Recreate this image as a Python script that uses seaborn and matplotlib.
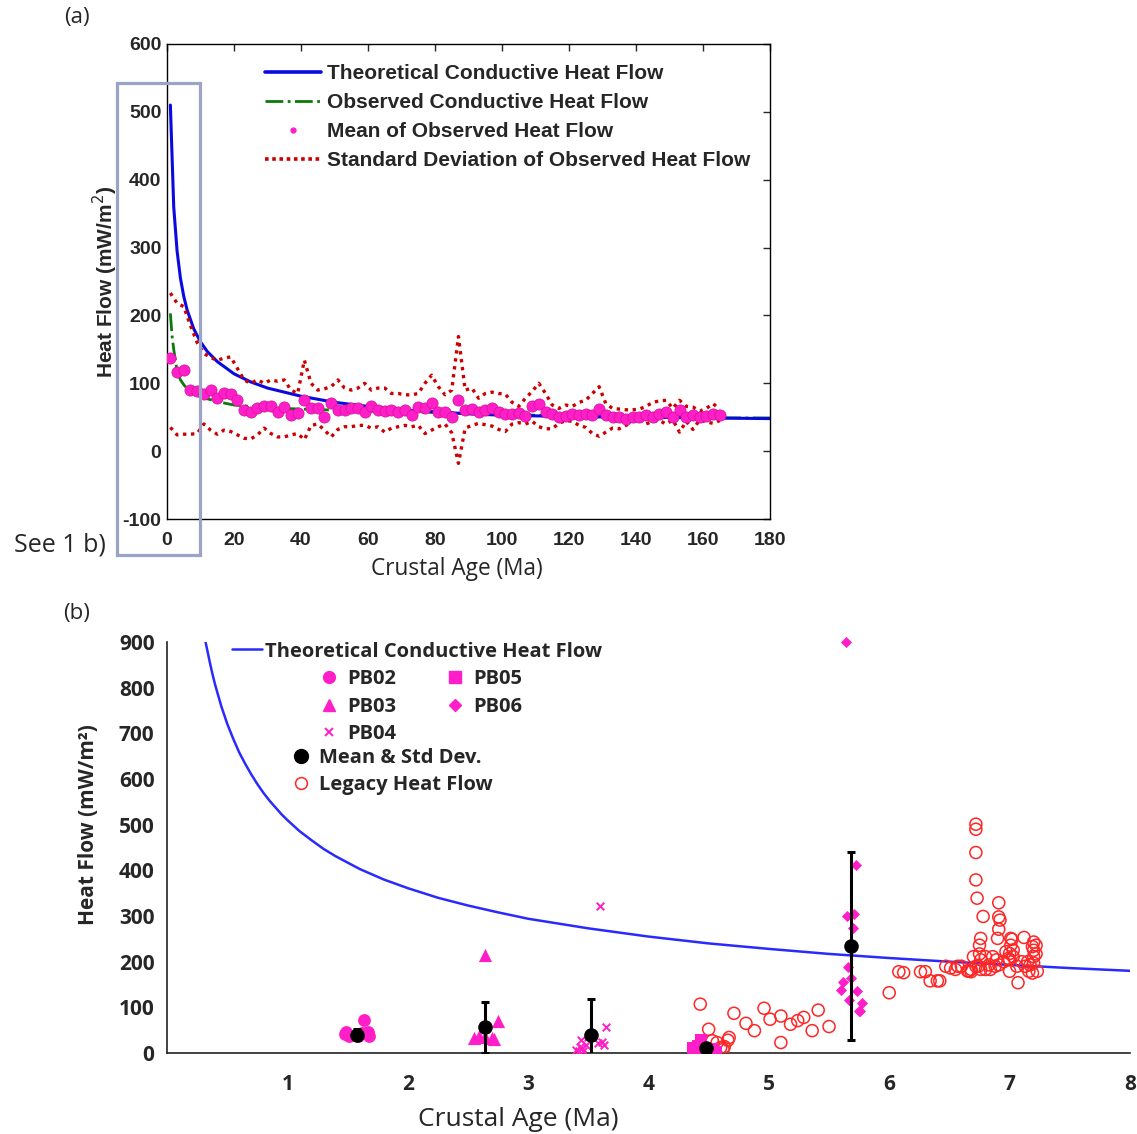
import matplotlib
matplotlib.use("Agg")
import matplotlib.pyplot as plt
import seaborn as sns
from matplotlib.lines import Line2D
from matplotlib.patches import Rectangle
from matplotlib.ticker import MultipleLocator, FuncFormatter

# ---------------- panel (a) data ----------------
theo_age_a = [1, 2, 3, 4, 5, 6, 8, 10, 12, 15, 20, 25, 30, 40, 50, 60, 70, 80, 90, 100, 120, 140, 160, 180]
theo_hf_a = [510, 360, 295, 255, 228, 208, 180, 161, 147, 132, 114, 102, 93, 81, 72, 66, 61, 58, 55, 53, 51, 50, 49, 48]

obs_age_a = [1, 1.5, 2, 3, 4, 5, 6, 8, 10, 15, 20, 30, 40, 60, 80, 100, 120, 140, 160, 180]
obs_hf_a = [203, 170, 150, 118, 105, 98, 92, 85, 80, 73, 68, 64, 62, 59, 57, 54, 52, 50, 49, 49]

mean_age_a = list(range(1, 166, 2))
mean_hf_a = [137, 117, 120, 90, 88, 84, 90, 78, 86, 84,
             76, 61, 57, 63, 67, 66, 57, 65, 54, 56,
             75, 63, 63, 51, 71, 60, 61, 63, 64, 58,
             66, 60, 59, 60, 57, 60, 54, 65, 64, 71,
             58, 57, 50, 76, 60, 62, 57, 61, 63, 58,
             55, 55, 56, 52, 66, 70, 57, 55, 51, 52,
             55, 53, 55, 53, 62, 53, 51, 51, 47, 50,
             51, 53, 51, 55, 57, 50, 60, 50, 53, 50,
             52, 55, 53]
std_upper_a = [233, 218, 213, 185, 160, 144, 138, 134, 137, 139,
               122, 105, 100, 105, 100, 105, 103, 105, 90, 85,
               134, 100, 90, 92, 95, 105, 93, 90, 93, 100,
               90, 93, 93, 85, 85, 83, 83, 85, 100, 112,
               95, 83, 90, 169, 90, 93, 78, 85, 87, 85,
               84, 72, 66, 78, 88, 100, 85, 68, 63, 68,
               66, 72, 75, 85, 95, 70, 63, 62, 61, 61,
               62, 66, 72, 74, 75, 63, 75, 66, 65, 59,
               63, 70, 62]
std_lower_a = [35, 24, 25, 25, 26, 40, 31, 25, 31, 29,
               24, 19, 18, 24, 34, 26, 21, 21, 24, 26,
               17, 38, 40, 31, 21, 32, 36, 36, 38, 38,
               34, 36, 28, 34, 36, 38, 36, 38, 26, 31,
               36, 40, 27, -18, 34, 38, 41, 39, 37, 32,
               29, 40, 42, 40, 44, 36, 33, 33, 41, 45,
               44, 38, 35, 26, 22, 28, 34, 33, 38, 44,
               46, 40, 44, 45, 40, 46, 28, 44, 32, 46,
               43, 41, 45]

# ---------------- panel (b) data ----------------
theo_age_b = [0.32, 0.34, 0.36, 0.38, 0.4, 0.45, 0.5, 0.55, 0.6, 0.65, 0.7, 0.75, 0.8, 0.85,
              0.9, 0.95, 1.0, 1.1, 1.2, 1.3, 1.4, 1.6, 1.8, 2.0, 2.25, 2.5, 2.75, 3.0, 3.5,
              4.0, 4.5, 5.0, 5.5, 6.0, 6.5, 7.0, 7.5, 8.0]
theo_hf_b = [900, 875, 850, 827, 806, 760, 721, 688, 658, 633, 610, 589, 570, 553,
             538, 523, 510, 486, 466, 447, 431, 403, 380, 361, 340, 323, 308, 294, 273,
             255, 240, 228, 217, 208, 200, 193, 186, 180]

pb02_age = [1.48, 1.51, 1.59, 1.64, 1.68, 1.67, 1.62, 1.49]
pb02_hf = [42, 37, 38, 72, 38, 47, 44, 47]
pb03_age = [2.64, 2.75, 2.55, 2.59, 2.70, 2.72, 2.64]
pb03_hf = [215, 71, 34, 38, 33, 30, 36]
pb04_age = [3.60, 3.43, 3.45, 3.40, 3.48, 3.44, 3.65, 3.61, 3.63, 3.58, 3.50, 3.42, 3.46]
pb04_hf = [322, 14, 10, 7, 18, 28, 58, 25, 18, 22, 35, 5, 4]
pb05_age = [4.41, 4.44, 4.56, 4.37, 4.53, 4.47]
pb05_hf = [15, 28, 3, 12, 9, 6]
pb06_age = [5.64, 5.72, 5.65, 5.71, 5.70, 5.66, 5.68, 5.62, 5.60, 5.73, 5.67, 5.77, 5.75, 5.76]
pb06_hf = [900, 412, 300, 304, 274, 189, 164, 155, 138, 136, 116, 110, 91, 93]

well_mean_age = [1.58, 2.64, 3.52, 4.48, 5.68]
well_mean_hf = [40, 56, 39, 12, 234]
well_std_hf = [12, 55, 80, 8, 206]

legacy_age = [4.43, 4.50, 4.53, 4.57, 4.60, 4.62, 4.63, 4.66, 4.67, 4.71, 4.81, 4.88, 4.96, 5.01,
              5.10, 5.10, 5.18, 5.24, 5.29, 5.36, 5.41, 5.50, 6.00, 6.08, 6.12, 6.26, 6.30, 6.34,
              6.40, 6.42, 6.47, 6.51, 6.57, 6.65, 6.68, 6.72, 6.72, 6.72, 6.72, 6.73, 6.78, 6.91,
              6.91, 6.92, 6.91, 6.90, 6.76, 6.75, 6.75, 6.70, 6.80, 7.01, 7.02, 7.12, 7.01, 7.03,
              7.00, 7.03, 6.99, 6.95, 6.91, 6.88, 6.84, 6.80, 6.76, 6.72, 6.68, 6.66, 7.00, 7.06,
              7.10, 7.13, 7.19, 7.20, 7.22, 7.20, 7.22, 7.20, 7.17, 7.19, 7.16, 7.23, 7.20, 7.07,
              7.15, 6.97, 7.00, 6.86, 6.89, 6.76, 6.74, 6.83, 6.55, 6.60]
legacy_hf = [107, 52, 27, 23, 12, 8, 14, 28, 34, 87, 65, 49, 98, 74,
             81, 23, 63, 71, 78, 49, 94, 58, 132, 178, 176, 178, 178, 158,
             158, 158, 190, 186, 190, 180, 178, 501, 490, 439, 379, 339, 299, 329,
             298, 291, 271, 251, 251, 236, 217, 211, 211, 251, 249, 253, 236, 225,
             218, 211, 207, 200, 193, 190, 183, 183, 183, 190, 183, 179, 179, 190,
             200, 190, 233, 225, 217, 211, 236, 243, 193, 175, 179, 179, 197, 154,
             200, 222, 204, 211, 204, 204, 190, 193, 183, 190]

# ---------------- style ----------------
sns.set_style("white")
plt.rcParams['font.family'] = ['Liberation Sans', 'DejaVu Sans']
plt.rcParams['axes.unicode_minus'] = False

blue_a = '#0a0ae0'
green_a = '#0a7a0a'
red_a = '#cc0000'
pink = '#ff1ec8'
blue_b = '#2a2aff'
red_b = '#ff2626'

fig = plt.figure(figsize=(11.37, 11.34), dpi=100)
ax1 = fig.add_axes([0.1469, 0.5423, 0.5303, 0.4189])
ax2 = fig.add_axes([0.1469, 0.0714, 0.8469, 0.3625])

# ---------------- panel (a) ----------------
sns.lineplot(x=mean_age_a, y=std_upper_a, ax=ax1, color=red_a, lw=2.4,
             linestyle=(0, (1, 1.4)), zorder=3)
sns.lineplot(x=mean_age_a, y=std_lower_a, ax=ax1, color=red_a, lw=2.4,
             linestyle=(0, (1, 1.4)), zorder=3)
sns.lineplot(x=obs_age_a, y=obs_hf_a, ax=ax1, color=green_a, lw=2, linestyle='-.', zorder=2)
sns.lineplot(x=theo_age_a, y=theo_hf_a, ax=ax1, color=blue_a, lw=2.2, zorder=2.5)
sns.scatterplot(x=mean_age_a, y=mean_hf_a, ax=ax1, color=pink, s=65, edgecolor='#d0109a',
                linewidth=0.5, zorder=5)

ax1.set_xlim(0, 180)
ax1.set_ylim(-100, 600)
ax1.xaxis.set_major_locator(MultipleLocator(20))
ax1.yaxis.set_major_locator(MultipleLocator(100))
ax1.tick_params(direction='in', top=True, right=True, length=5, width=1, pad=4, labelsize=14)
ax1.tick_params(axis='x', pad=9)
for lab in ax1.get_xticklabels() + ax1.get_yticklabels():
    lab.set_fontweight('bold')
for sp in ax1.spines.values():
    sp.set_color('black')
    sp.set_linewidth(1)
ax1.set_xlabel('Crustal Age (Ma)', family='Open Sans', fontsize=16.3)
ax1.xaxis.set_label_coords(0.481, -0.079)
ax1.set_ylabel('Heat Flow (mW/m$^2$)', fontweight='bold', fontsize=15, labelpad=2)

leg_a_handles = [Line2D([], [], color=blue_a, lw=2.6),
                 Line2D([], [], color=green_a, lw=2, ls='-.'),
                 Line2D([], [], color=pink, marker='o', ls='none', ms=3.5),
                 Line2D([], [], color=red_a, lw=2.6, ls=(0, (1, 1.0)))]
leg_a_labels = ['Theoretical Conductive Heat Flow', 'Observed Conductive Heat Flow',
                'Mean of Observed Heat Flow', 'Standard Deviation of Observed Heat Flow']
ax1.legend(leg_a_handles, leg_a_labels, loc='upper left', bbox_to_anchor=(0.162, 0.958),
           frameon=False, prop=dict(weight='bold', size=15), handlelength=2.7,
           handletextpad=0.3, labelspacing=0.48, borderaxespad=0, borderpad=0)

# ---------------- panel (b) ----------------
sns.lineplot(x=theo_age_b, y=theo_hf_b, ax=ax2, color=blue_b, lw=1.8, zorder=2)
sns.scatterplot(x=legacy_age, y=legacy_hf, ax=ax2, marker='o', s=75, facecolor='none',
                edgecolor=red_b, linewidth=1.1, zorder=3)
sns.scatterplot(x=pb02_age, y=pb02_hf, ax=ax2, marker='o', s=85, color=pink, edgecolor=pink,
                linewidth=0, zorder=4)
sns.scatterplot(x=pb03_age, y=pb03_hf, ax=ax2, marker='^', s=90, color=pink, edgecolor=pink,
                linewidth=0, zorder=4)
sns.scatterplot(x=pb04_age, y=pb04_hf, ax=ax2, marker='x', s=30, color=pink, linewidth=1.4,
                zorder=4)
sns.scatterplot(x=pb05_age, y=pb05_hf, ax=ax2, marker='s', s=75, color=pink, edgecolor=pink,
                linewidth=0, zorder=4)
sns.scatterplot(x=pb06_age, y=pb06_hf, ax=ax2, marker='D', s=32, color=pink, edgecolor=pink,
                linewidth=0, zorder=4, clip_on=False)
ax2.errorbar(well_mean_age, well_mean_hf, yerr=well_std_hf, fmt='none', ecolor='black',
             elinewidth=2.2, capsize=3, capthick=2.2, zorder=5)
sns.scatterplot(x=well_mean_age, y=well_mean_hf, ax=ax2, marker='o', s=110, color='black',
                edgecolor='black', linewidth=0, zorder=6)

ax2.set_xlim(0, 8)
ax2.set_ylim(0, 900)
ax2.xaxis.set_major_locator(MultipleLocator(1))
ax2.xaxis.set_minor_locator(MultipleLocator(0.2))
ax2.yaxis.set_major_locator(MultipleLocator(100))
ax2.yaxis.set_minor_locator(MultipleLocator(20))
ax2.xaxis.set_major_formatter(FuncFormatter(lambda v, p: '' if v == 0 else f'{v:.0f}'))
sns.despine(ax=ax2)
for sp in ('left', 'bottom'):
    ax2.spines[sp].set_color('#222222')
    ax2.spines[sp].set_linewidth(1.2)
ax2.tick_params(which='major', direction='out', length=6, width=1.1, color='#222222',
                labelsize=15, pad=3)
ax2.tick_params(which='minor', direction='out', length=4.3, width=1, color='#222222')
ax2.tick_params(axis='x', which='major', pad=9)
for lab in ax2.get_xticklabels() + ax2.get_yticklabels():
    lab.set_fontfamily('Open Sans')
    lab.set_fontweight('bold')
ax2.set_xlabel('Crustal Age (Ma)', family='Open Sans', fontsize=19)
ax2.xaxis.set_label_coords(0.3645, -0.131)
ax2.set_ylabel('Heat Flow (mW/m²)', family='Open Sans', fontweight='bold', fontsize=15)
ax2.yaxis.set_label_coords(-0.0706, 0.555)

leg_font = dict(family='Open Sans', weight='bold', size=14.5)
leg_b1 = ax2.legend([Line2D([], [], color=blue_b, lw=1.8)], ['Theoretical Conductive Heat Flow'],
                    loc='upper left', bbox_to_anchor=(0.0675, 1.001), frameon=False, prop=leg_font,
                    handlelength=1.5, handletextpad=0.15, borderaxespad=0, borderpad=0)
ax2.add_artist(leg_b1)
pb_handles = [Line2D([], [], color=pink, marker='o', ls='none', ms=8.5),
              Line2D([], [], color=pink, marker='^', ls='none', ms=8.5),
              Line2D([], [], color=pink, marker='x', ls='none', ms=6, mew=1.4),
              Line2D([], [], color=pink, marker='s', ls='none', ms=8),
              Line2D([], [], color=pink, marker='D', ls='none', ms=6)]
leg_b2 = ax2.legend(pb_handles, ['PB02', 'PB03', 'PB04', 'PB05', 'PB06'], ncol=2,
                    loc='upper left', bbox_to_anchor=(0.158, 0.933), frameon=False, prop=leg_font,
                    handlelength=1.0, handletextpad=0.4, labelspacing=0.37, columnspacing=2.4,
                    borderaxespad=0, borderpad=0)
ax2.add_artist(leg_b2)
ax2.legend([Line2D([], [], color='black', marker='o', ls='none', ms=10),
            Line2D([], [], color=red_b, marker='o', ls='none', ms=8.5, mfc='none', mew=1.1)],
           ['Mean & Std Dev.', 'Legacy Heat Flow'],
           loc='upper left', bbox_to_anchor=(0.129, 0.743), frameon=False, prop=leg_font,
           handlelength=1.0, handletextpad=0.4, labelspacing=0.37, borderaxespad=0, borderpad=0)

# ---------------- figure annotations ----------------
fig.text(77 / 1137, 1 - 18 / 1134, '(a)', ha='center', va='center', family='Open Sans', fontsize=16)
fig.text(77 / 1137, 1 - 614 / 1134, '(b)', ha='center', va='center', family='Open Sans', fontsize=16)
fig.text(60 / 1137, 1 - 545 / 1134, 'See 1 b)', ha='center', va='center', family='Open Sans',
         fontsize=18)
fig.add_artist(Rectangle((117 / 1137, 1 - 555 / 1134), 83 / 1137, 472 / 1134,
                         transform=fig.transFigure, fill=False, ec='#9ba4c6', lw=2.3, zorder=10))

fig.savefig('out.png', dpi=100)
